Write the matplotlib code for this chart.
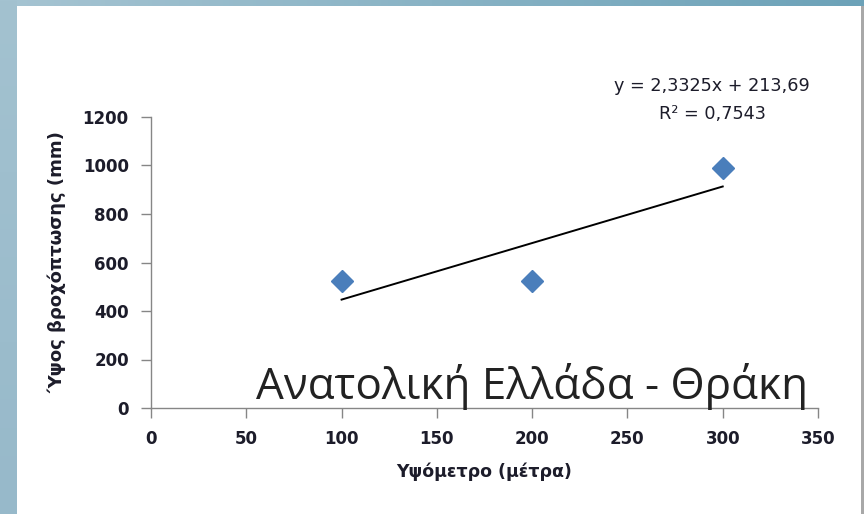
import numpy as np
import matplotlib
matplotlib.use("Agg")
import matplotlib.pyplot as plt
from matplotlib.patches import Rectangle

# Data
altitude = [100, 200, 300]
rainfall = [524.69, 524.69, 991.19]
slope, intercept = 2.3325, 213.69
trend_x = [100, 300]
xticks = [0, 50, 100, 150, 200, 250, 300, 350]
yticks = [0, 200, 400, 600, 800, 1000, 1200]
title = "Ανατολική Ελλάδα - Θράκη"
xlabel = "Υψόμετρο (μέτρα)"
ylabel = "Ύψος βροχόπτωσης (mm)"
eq_text = "y = 2,3325x + 213,69"
r2_text = "R² = 0,7543"

W, H = 864, 514
fig = plt.figure(figsize=(W / 100, H / 100), dpi=100)

# background: gradient frame
bg = fig.add_axes([0, 0, 1, 1])
bg.axis("off")
c1 = np.array([0xa6, 0xc4, 0xd2]) / 255
c2 = np.array([0x6c, 0xa2, 0xb8]) / 255
t = np.linspace(0, 1, 256)
grad = (c1[None, :] * (1 - t[:, None]) + c2[None, :] * t[:, None])[None, :, :]
bg.imshow(grad, extent=[0, W, 8, 0], aspect="auto")
cl1 = np.array([0xa3, 0xc2, 0xd0]) / 255
cl2 = np.array([0x97, 0xb9, 0xca]) / 255
gradv = (cl1[None, :] * (1 - t[:, None]) + cl2[None, :] * t[:, None])[:, None, :]
bg.imshow(gradv, extent=[0, 17, H, 0], aspect="auto")
bg.add_patch(Rectangle((17, 6), W - 17, H - 6, facecolor="white", edgecolor="none"))
bg.add_patch(Rectangle((861, 6), 3, H - 6, facecolor="#a8a8a8", edgecolor="none"))
bg.set_xlim(0, W)
bg.set_ylim(H, 0)

font = ["DejaVu Sans"]
txtc = "#1c1c2a"

ax = fig.add_axes([151 / W, 1 - 408 / H, (818 - 151) / W, (408 - 117) / H])
ax.patch.set_alpha(0)
ax.set_xlim(0, 350)
ax.set_ylim(0, 1200)
ax.set_xticks(xticks)
ax.set_yticks(yticks)
for s in ["top", "right"]:
    ax.spines[s].set_visible(False)
for s in ["left", "bottom"]:
    ax.spines[s].set_color("#868686")
    ax.spines[s].set_linewidth(1.0)
ax.tick_params(axis="both", direction="out", length=7, width=1.0, color="#868686",
               labelsize=12, labelcolor=txtc)
ax.tick_params(axis="y", pad=9)
ax.tick_params(axis="x", pad=9)
for lab in ax.get_xticklabels() + ax.get_yticklabels():
    lab.set_family(font)
    lab.set_fontweight("bold")

ax.plot(altitude, rainfall, linestyle="none", marker="D", markersize=11.5,
        color="#4a7ebb", zorder=3, clip_on=False)
ty = [slope * x + intercept for x in trend_x]
ax.plot(trend_x, ty, color="black", linewidth=1.4, zorder=2)

ax.set_xlabel(xlabel, family=font, fontweight="bold", fontsize=12.5, color=txtc, labelpad=10)
ax.set_ylabel(ylabel, family=font, fontweight="bold", fontsize=13, color=txtc, labelpad=12)

fig.text(712 / W, 1 - 86 / H, eq_text, ha="center", va="center", family=font,
         fontsize=12.7, color=txtc)
fig.text(712 / W, 1 - 114 / H, r2_text, ha="center", va="center", family=font,
         fontsize=12.7, color=txtc)

fig.text(808 / W, 1 - 399 / H, title, ha="right", va="baseline",
         family=["Open Sans", "DejaVu Sans"], fontsize=31.7, color="#222222")

fig.savefig("out.png", dpi=100)
